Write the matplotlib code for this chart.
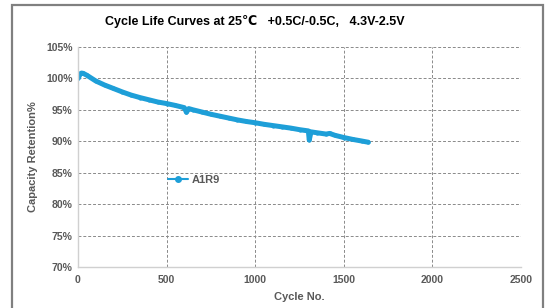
import matplotlib
matplotlib.use("Agg")
import matplotlib.pyplot as plt
from matplotlib.patches import Rectangle

cycles = [0, 5, 10, 20, 30, 50, 100, 150, 200, 250, 300, 350, 400, 450, 500,
          550, 600, 612, 625, 650, 700, 750, 800, 850, 900, 950, 1000, 1050,
          1100, 1150, 1200, 1250, 1300, 1305, 1315, 1350, 1400, 1420, 1450,
          1500, 1550, 1600, 1638]
retention = [100.0, 100.4, 100.7, 100.85, 100.8, 100.5, 99.6, 98.95, 98.4, 97.85,
             97.35, 96.95, 96.6, 96.25, 96.0, 95.7, 95.35, 94.6, 95.2, 95.0,
             94.65, 94.3, 94.0, 93.7, 93.4, 93.15, 92.95, 92.7, 92.5, 92.3,
             92.1, 91.85, 91.65, 90.2, 91.5, 91.35, 91.15, 91.25, 90.95, 90.6,
             90.3, 90.05, 89.85]
series_name = "A1R9"
x_ticks = [0, 500, 1000, 1500, 2000, 2500]
y_ticks = [70, 75, 80, 85, 90, 95, 100, 105]
title = "Cycle Life Curves at 25\u2103   +0.5C/-0.5C,   4.3V-2.5V"

plt.rcParams['font.family'] = ['Liberation Sans', 'DejaVu Sans']

W, H = 547, 308
fig = plt.figure(figsize=(W / 100, H / 100), dpi=100)
fig.patch.set_facecolor('white')

# outer frame
fig.patches.append(Rectangle((12 / W, -0.05), (543 - 12) / W, 1 - 5 / H + 0.05,
                             transform=fig.transFigure, fill=False,
                             edgecolor='#808080', linewidth=1.6))

ax = fig.add_axes([78 / W, 1 - 267 / H, (521 - 78) / W, (267 - 47) / H])
ax.plot(cycles, retention, color='#1E9FD8', linewidth=3.6, marker='o',
        markersize=2, label=series_name, solid_capstyle='round',
        solid_joinstyle='round')

ax.set_xlim(0, 2500)
ax.set_ylim(70, 105)
ax.set_xticks(x_ticks)
ax.set_yticks(y_ticks)
ax.set_yticklabels([f"{v}%" for v in y_ticks])
gray = '#595959'
ax.tick_params(axis='both', length=0, labelsize=7.5, labelcolor=gray)
ax.tick_params(axis='x', pad=6)
ax.tick_params(axis='y', pad=4)
for lbl in ax.get_xticklabels() + ax.get_yticklabels():
    lbl.set_fontweight('bold')

ax.grid(True, linestyle=(0, (3, 2)), color='#8a8a8a', linewidth=0.7)
ax.set_axisbelow(True)
for s in ['top', 'right']:
    ax.spines[s].set_visible(False)
for s in ['left', 'bottom']:
    ax.spines[s].set_color('#d0d0d0')
    ax.spines[s].set_linewidth(1.0)

ax.set_xlabel("Cycle No.", fontsize=8, fontweight='bold', color=gray, labelpad=5)
ax.set_ylabel("Capacity Retention%", fontsize=8, fontweight='bold', color=gray, labelpad=6)

leg = ax.legend(loc='center left', bbox_to_anchor=(0.18, 0.395), frameon=False,
                handlelength=1.8, handletextpad=0.4,
                prop={'weight': 'bold', 'size': 8})
for t in leg.get_texts():
    t.set_color(gray)
for h in leg.legend_handles:
    h.set_linewidth(1.5)
    h.set_markersize(4)

fig.text(255 / W, 1 - 22 / H, title, ha='center', va='center',
         fontsize=9, fontweight='bold', color='black')

fig.savefig("out.png", dpi=100)
